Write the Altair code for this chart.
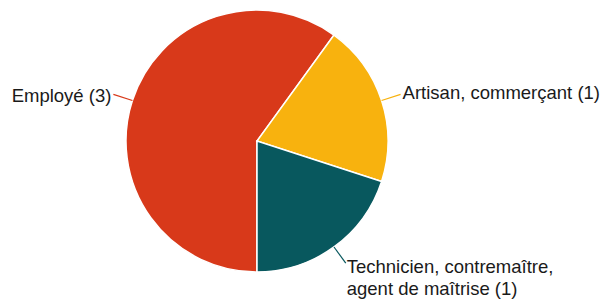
import math
import altair as alt
import pandas as pd

categories = ["Employé (3)", "Artisan, commerçant (1)", "Technicien, contremaître,\nagent de maîtrise (1)"]
values = [3, 1, 1]
colors = ["#D8391A", "#F8B20E", "#08585E"]

W, H = 594, 291
CX, CY, R = 249, 133, 131
LEAD = 20

total = sum(values)
start = math.pi
rows, line_rows = [], []
acc = 0
for i, (c, v) in enumerate(zip(categories, values)):
    a0 = start + 2 * math.pi * acc / total
    acc += v
    a1 = start + 2 * math.pi * acc / total
    mid = (a0 + a1) / 2
    s, co = math.sin(mid), math.cos(mid)
    rr = (R + LEAD) / R
    side = "left" if s > 0 else "right"
    if co < -0.5:
        side = "bottom"
    rows.append(dict(cat=c, idx=i, value=v, x=rr * s, y=rr * co, side=side))
    for r in (1.0, rr):
        line_rows.append(dict(cat=c, x=r * s, y=r * co, k=r))

df = pd.DataFrame(rows)
ldf = pd.DataFrame(line_rows)

color_scale = alt.Scale(domain=categories, range=colors)
xs = alt.Scale(domain=[-CX / R, (W - CX) / R], range=[0, W], nice=False, zero=False)
ys = alt.Scale(domain=[-(H - CY) / R, CY / R], range=[H, 0], nice=False, zero=False)

pie = alt.Chart(df).mark_arc(outerRadius=R, stroke="white", strokeWidth=1.5).encode(
    theta=alt.Theta("value:Q", stack=True, scale=alt.Scale(range=[math.pi, 3 * math.pi])),
    order=alt.Order("idx:Q"),
    color=alt.Color("cat:N", scale=color_scale, legend=None),
    x=alt.value(CX),
    y=alt.value(CY),
)

lines = alt.Chart(ldf).mark_line(strokeWidth=1.2).encode(
    x=alt.X("x:Q", scale=xs, axis=None),
    y=alt.Y("y:Q", scale=ys, axis=None),
    detail="cat:N",
    order="k:Q",
    color=alt.Color("cat:N", scale=color_scale, legend=None),
)

font = dict(font="Liberation Sans", fontSize=18.5, color="#1a1a1a", lineBreak="\n", lineHeight=22)
base = alt.Chart(df).encode(
    x=alt.X("x:Q", scale=xs, axis=None),
    y=alt.Y("y:Q", scale=ys, axis=None),
    text="cat:N",
)
t_left = base.mark_text(align="left", baseline="middle", dx=2, dy=-1, **font).transform_filter(alt.datum.side == "left")
t_right = base.mark_text(align="right", baseline="middle", dx=-2, dy=2, **font).transform_filter(alt.datum.side == "right")
t_bottom = base.mark_text(align="left", baseline="top", dx=1, dy=-5, **font).transform_filter(alt.datum.side == "bottom")

chart = alt.layer(pie, lines, t_left, t_right, t_bottom).properties(
    width=W, height=H, padding=0, autosize=alt.AutoSizeParams(type="none")
).configure_view(stroke=None)

chart.save("out.html", embed_options={"renderer": "svg", "actions": False})
